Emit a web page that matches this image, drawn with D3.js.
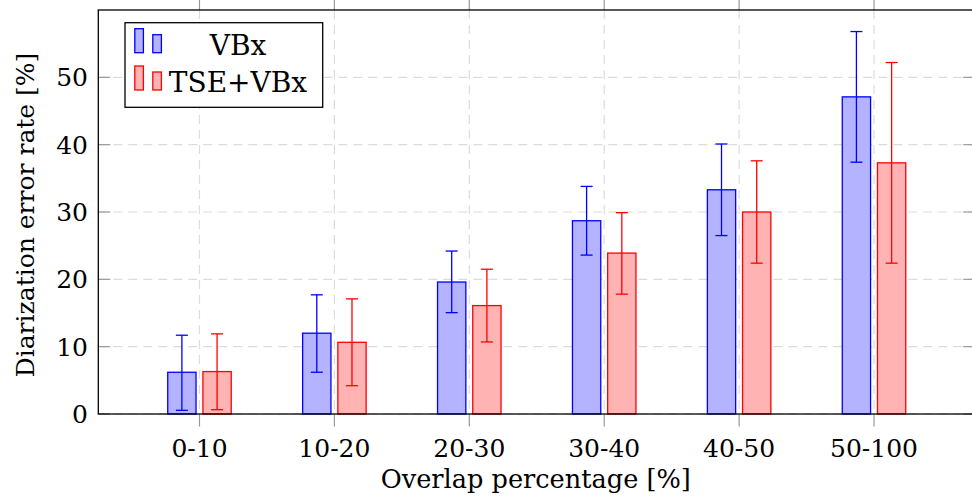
<!DOCTYPE html>
<html>
<head>
<meta charset="utf-8">
<script src="https://cdn.jsdelivr.net/npm/d3@7"></script>
<style>
  html, body { margin: 0; padding: 0; background: #fff; }
  svg { display: block; }
</style>
</head>
<body>
<svg id="chart" width="972" height="504"></svg>
<script>
// ---- data ----
const categories = ["0-10", "10-20", "20-30", "30-40", "40-50", "50-100"];
const seriesNames = ["VBx", "TSE+VBx"];
const vbxValues = [6.2, 12.0, 19.6, 28.7, 33.3, 47.1];
const vbxErrLow = [0.55, 6.2, 15.05, 23.6, 26.5, 37.4];
const vbxErrHigh = [11.7, 17.7, 24.2, 33.8, 40.1, 56.8];
const tseValues = [6.3, 10.65, 16.1, 23.9, 30.0, 37.3];
const tseErrLow = [0.64, 4.2, 10.7, 17.8, 22.4, 22.4];
const tseErrHigh = [11.9, 17.1, 21.5, 29.9, 37.6, 52.2];
const yTicks = [0, 10, 20, 30, 40, 50];
const xTitle = "Overlap percentage [%]";
const yTitle = "Diarization error rate [%]";

(function () {
const FONT = "'DejaVu Serif', 'Liberation Serif', serif";
const svg = d3.select("#chart").attr("font-family", FONT);
const pLeft = 98.3, pRight = 975.2, pTop = 10, pBottom = 414;

const x = d3.scaleLinear().domain([-0.75, categories.length - 0.25]).range([pLeft, pRight]);
const y = d3.scaleLinear().domain([0, 60]).range([pBottom, pTop]);

const series = [
  { name: seriesNames[0], values: vbxValues, lo: vbxErrLow, hi: vbxErrHigh, stroke: "#0000ff", fill: "#b3b3ff", offset: -17.6 },
  { name: seriesNames[1], values: tseValues, lo: tseErrLow, hi: tseErrHigh, stroke: "#ff0000", fill: "#ffb3b3", offset: 17.6 }
];
const barW = 28.3;
const gridColor = "#dcdcdc";
const tickColor = "#999";

// grid
const g = svg.append("g");
g.append("g").selectAll("line").data(yTicks).join("line")
  .attr("x1", pLeft).attr("x2", pRight)
  .attr("y1", d => y(d)).attr("y2", d => y(d))
  .attr("stroke", gridColor).attr("stroke-width", 1.2).attr("stroke-dasharray", "9,6");
g.append("g").selectAll("line").data(categories).join("line")
  .attr("x1", (d, i) => x(i)).attr("x2", (d, i) => x(i))
  .attr("y1", pTop).attr("y2", pBottom)
  .attr("stroke", gridColor).attr("stroke-width", 1.2).attr("stroke-dasharray", "9,6");

// ticks: y inside both sides, x outside top & bottom
svg.append("g").selectAll("line").data(yTicks).join("line")
  .attr("x1", pLeft).attr("x2", pLeft + 12).attr("y1", d => y(d)).attr("y2", d => y(d))
  .attr("stroke", tickColor).attr("stroke-width", 1.2);
svg.append("g").selectAll("line").data(yTicks).join("line")
  .attr("x1", pRight - 12).attr("x2", pRight).attr("y1", d => y(d)).attr("y2", d => y(d))
  .attr("stroke", tickColor).attr("stroke-width", 1.2);
svg.append("g").selectAll("line").data(categories).join("line")
  .attr("x1", (d, i) => x(i)).attr("x2", (d, i) => x(i)).attr("y1", pBottom).attr("y2", pBottom + 12.5)
  .attr("stroke", tickColor).attr("stroke-width", 1.2);
svg.append("g").selectAll("line").data(categories).join("line")
  .attr("x1", (d, i) => x(i)).attr("x2", (d, i) => x(i)).attr("y1", pTop).attr("y2", pTop - 12.5)
  .attr("stroke", tickColor).attr("stroke-width", 1.2);

// bars
series.forEach(s => {
  const sg = svg.append("g");
  sg.append("g").selectAll("rect").data(s.values).join("rect")
    .attr("x", (d, i) => x(i) + s.offset - barW / 2)
    .attr("width", barW)
    .attr("y", d => y(d))
    .attr("height", d => y(0) - y(d))
    .attr("fill", s.fill).attr("stroke", s.stroke).attr("stroke-width", 1.3);
  sg.append("g").selectAll("line").data(s.values).join("line")
    .attr("x1", (d, i) => x(i) + s.offset).attr("x2", (d, i) => x(i) + s.offset)
    .attr("y1", (d, i) => y(s.lo[i])).attr("y2", (d, i) => y(s.hi[i]))
    .attr("stroke", s.stroke).attr("stroke-width", 1.3);
  sg.append("g").selectAll("line").data(s.values).join("line")
    .attr("x1", (d, i) => x(i) + s.offset - 6).attr("x2", (d, i) => x(i) + s.offset + 6)
    .attr("y1", (d, i) => y(s.hi[i])).attr("y2", (d, i) => y(s.hi[i]))
    .attr("stroke", s.stroke).attr("stroke-width", 1.3);
  sg.append("g").selectAll("line").data(s.values).join("line")
    .attr("x1", (d, i) => x(i) + s.offset - 6).attr("x2", (d, i) => x(i) + s.offset + 6)
    .attr("y1", (d, i) => y(s.lo[i])).attr("y2", (d, i) => y(s.lo[i]))
    .attr("stroke", s.stroke).attr("stroke-width", 1.3);
});

// frame
svg.append("rect").attr("x", pLeft).attr("y", pTop).attr("width", pRight - pLeft).attr("height", pBottom - pTop)
  .attr("fill", "none").attr("stroke", "#000").attr("stroke-width", 1.3);

// tick labels
svg.append("g").selectAll("text").data(yTicks).join("text")
  .attr("x", 88).attr("y", d => y(d) + 9)
  .attr("text-anchor", "end").attr("font-size", 25).text(d => d);
svg.append("g").selectAll("text").data(categories).join("text")
  .attr("x", (d, i) => x(i)).attr("y", 457)
  .attr("text-anchor", "middle").attr("font-size", 25).text(d => d);

// axis titles
svg.append("text").attr("x", (pLeft + pRight) / 2 - 1).attr("y", 488)
  .attr("text-anchor", "middle").attr("font-size", 25.6).text(xTitle);
svg.append("text").attr("transform", `translate(34, ${(pTop + pBottom) / 2 + 3}) rotate(-90)`)
  .attr("text-anchor", "middle").attr("font-size", 25).text(yTitle);

// legend
const lg = svg.append("g");
lg.append("rect").attr("x", 125).attr("y", 22.7).attr("width", 197.7).attr("height", 84.6)
  .attr("fill", "#fff").attr("stroke", "#000").attr("stroke-width", 1.3);
series.forEach((s, k) => {
  const base = 52.7 + k * 37.3;
  lg.append("rect").attr("x", 134.8).attr("y", base - 24).attr("width", 8.6).attr("height", 24)
    .attr("fill", s.fill).attr("stroke", s.stroke).attr("stroke-width", 1.3);
  lg.append("rect").attr("x", 152.8).attr("y", base - 18).attr("width", 8.6).attr("height", 18)
    .attr("fill", s.fill).attr("stroke", s.stroke).attr("stroke-width", 1.3);
  lg.append("text").attr("x", 238).attr("y", base + 2)
    .attr("text-anchor", "middle").attr("font-size", 28).text(s.name);
});
})();
</script>
</body>
</html>
